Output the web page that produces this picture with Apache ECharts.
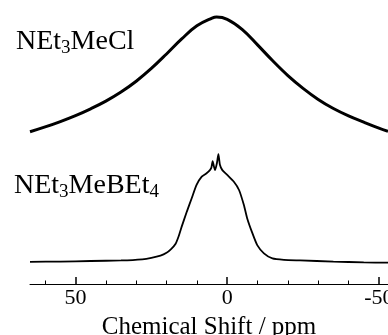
<!DOCTYPE html>
<html>
<head>
<meta charset="utf-8">
<script src="https://cdn.jsdelivr.net/npm/echarts@6/dist/echarts.min.js"></script>
<style>
html,body{margin:0;padding:0;background:#fff;}
#chart{width:388px;height:335px;}
</style>
</head>
<body>
<div id="chart"></div>
<script>
// Chemical shift (ppm) and stacked intensity (arbitrary units)
var shiftCl = [65, 60, 55, 50, 45, 40, 35, 30, 25, 20, 15, 10, 5, 3.5, 0, -5, -10, -15, -20, -25, -30, -35, -40, -45, -50, -53];
var intensityCl = [53.6, 55.3, 57.2, 59.3, 61.7, 64.4, 67.6, 71.4, 75.9, 81.0, 86.3, 90.9, 93.6, 94.0, 93.2, 89.6, 84.2, 78.6, 73.4, 68.9, 65.0, 61.8, 59.2, 57.0, 54.9, 53.8];

var shiftBEt = [65, 55, 45, 35, 28, 25, 22, 20, 18.5, 17, 16, 15.0, 13.3, 11.7, 10.1, 8.4, 6.8, 5.7, 5.2, 4.8, 4.4, 4.0, 3.4, 2.9, 2.4, 1.6, 0.0, -2.2, -3.9, -5.5, -6.6, -8.3, -9.9, -12.1, -14.9, -18.7, -24, -35, -45, -53];
var intensityBEt = [7.8, 7.9, 8.1, 8.3, 8.7, 9.2, 10.0, 11.0, 12.3, 14.2, 16.8, 20.2, 25.5, 30.2, 34.9, 37.8, 39.0, 40.1, 41.0, 43.3, 41.5, 40.1, 42.5, 45.7, 42.0, 40.1, 38.4, 36.0, 33.1, 27.8, 23.1, 17.9, 13.7, 10.8, 9.0, 8.5, 8.3, 7.9, 7.6, 7.5];

var majorTicks = [50, 0, -50];
var minorTicks = [60, 40, 30, 20, 10, -10, -20, -30, -40];
var axisName = 'Chemical Shift / ppm';

function pairs(xs, ys) { return xs.map(function (x, i) { return [x, ys[i]]; }); }

var serif = '"Liberation Serif", "Times New Roman", serif';
var labelRich = {
  n: { fontFamily: serif, fontSize: 28, lineHeight: 30, fill: '#000', verticalAlign: 'bottom' },
  s: { fontFamily: serif, fontSize: 19, height: 16, lineHeight: 16, fill: '#000', verticalAlign: 'bottom' }
};
var chart = echarts.init(document.getElementById('chart'));
chart.setOption({
  animation: false,
  grid: { left: 30, right: 0, top: 0, bottom: 51, containLabel: false, outerBoundsMode: 'none' },
  xAxis: [{
    type: 'value', inverse: true, min: -53, max: 65, position: 'bottom',
    name: axisName, nameLocation: 'middle', nameGap: 31,
    nameTextStyle: { fontFamily: serif, fontSize: 25, color: '#000' },
    axisLine: { show: true, lineStyle: { color: '#000', width: 1 } },
    axisTick: { show: true, inside: true, length: 7, customValues: majorTicks, lineStyle: { color: '#000', width: 1.5 } },
    axisLabel: { show: true, customValues: majorTicks, margin: 3, fontFamily: serif, fontSize: 22, color: '#000', hideOverlap: false },
    splitLine: { show: false }
  }, {
    type: 'value', inverse: true, min: -53, max: 65, position: 'bottom', offset: 0,
    axisLine: { show: false },
    axisTick: { show: true, inside: true, length: 3.5, customValues: minorTicks, lineStyle: { color: '#000', width: 1 } },
    axisLabel: { show: false },
    splitLine: { show: false }
  }],
  yAxis: { type: 'value', min: 0, max: 100, show: false },
  series: [{
    type: 'line', xAxisIndex: 0, data: pairs(shiftCl, intensityCl), smooth: 0.4,
    showSymbol: false, lineStyle: { color: '#000', width: 3 }
  }, {
    type: 'line', xAxisIndex: 0, data: pairs(shiftBEt, intensityBEt), smooth: 0.2,
    showSymbol: false, lineStyle: { color: '#000', width: 1.8 }
  }],
  graphic: [{
    type: 'text', left: 16, top: 28,
    style: { text: '{n|NEt}{s|3}{n|MeCl}', rich: labelRich }
  }, {
    type: 'text', left: 14, top: 172,
    style: { text: '{n|NEt}{s|3}{n|MeBEt}{s|4}', rich: labelRich }
  }]
});
</script>
</body>
</html>
